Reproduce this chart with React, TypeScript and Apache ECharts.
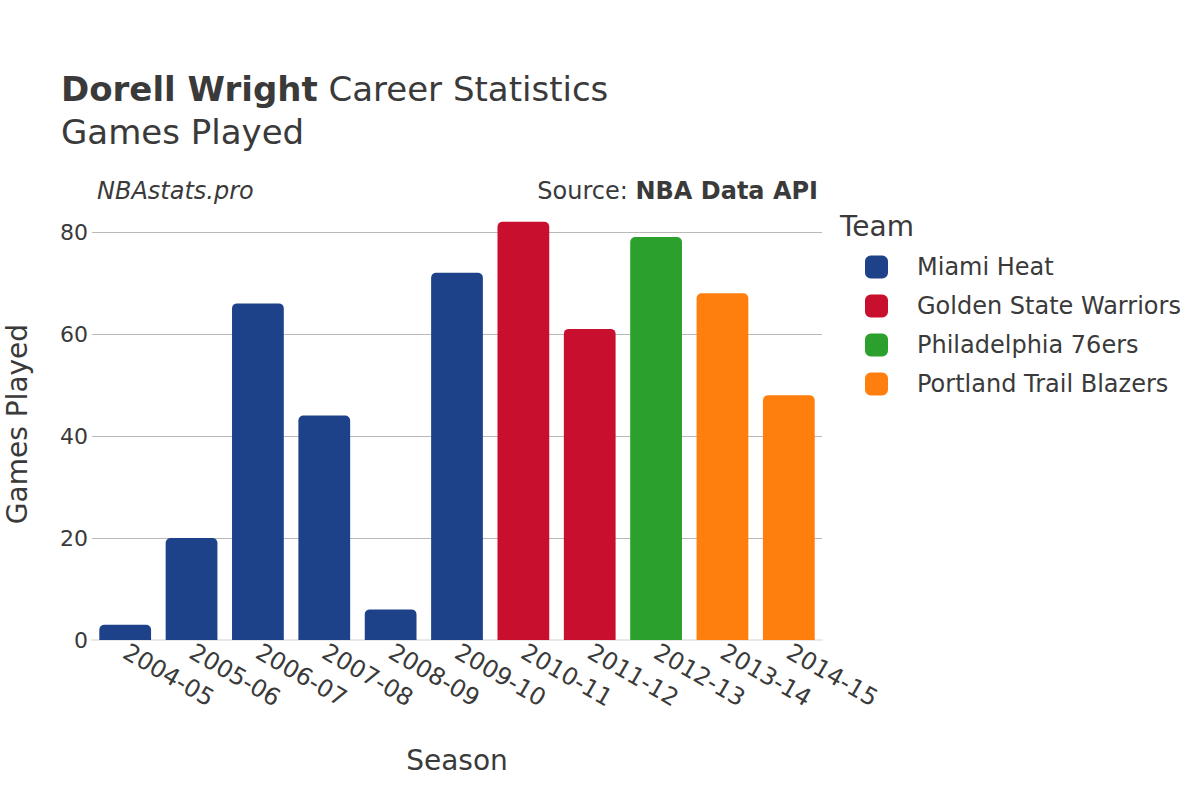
import React, { useEffect, useRef } from "react";
import * as echarts from "echarts";

const seasons = ["2004-05", "2005-06", "2006-07", "2007-08", "2008-09", "2009-10", "2010-11", "2011-12", "2012-13", "2013-14", "2014-15"];
const teams = ["Miami Heat", "Golden State Warriors", "Philadelphia 76ers", "Portland Trail Blazers"];
const teamColors = ["#1d428a", "#c8102e", "#2ca02c", "#ff7f0e"];
const gamesPlayed = [3, 20, 66, 44, 6, 72, 82, 61, 79, 68, 48];
const seasonTeam = [0, 0, 0, 0, 0, 0, 1, 1, 2, 3, 3];
const yTicks = [0, 20, 40, 60, 80];

const FONT = "DejaVu Sans";
const INK = "#3a3a3a";

export default function App() {
  const ref = useRef<HTMLDivElement>(null);
  useEffect(() => {
    if (!ref.current) return;
    const chart = echarts.init(ref.current, null, { renderer: "svg" });
    const series = teams.map((t, ti) => ({
      name: t,
      type: "bar",
      stack: "games",
      clip: false,
      barCategoryGap: "22%",
      itemStyle: { color: teamColors[ti], borderRadius: [5, 5, 0, 0] },
      data: gamesPlayed.map((v, i) => (seasonTeam[i] === ti ? v : "-")),
    }));
    chart.setOption({
      animation: false,
      textStyle: { fontFamily: FONT },
      grid: { left: 92, right: 378, top: 232, bottom: 160, containLabel: false, outerBoundsMode: "none" },
      legend: {
        orient: "vertical",
        left: 860,
        top: 250,
        itemWidth: 23,
        itemHeight: 23,
        itemGap: 15,
        icon: "roundRect",
        textStyle: { fontSize: 24, color: INK, fontFamily: FONT, padding: [0, 0, 0, 24] },
        data: teams,
      },
      xAxis: {
        type: "category",
        data: seasons,
        name: "Season",
        nameLocation: "middle",
        nameGap: 106,
        nameTextStyle: { fontSize: 28, color: INK, fontFamily: FONT },
        axisLine: { show: true, lineStyle: { color: "#e8e8e8", width: 2 } },
        axisTick: { show: false },
        axisLabel: { rotate: -30, fontSize: 24, color: INK, fontFamily: FONT, margin: 10, interval: 0 },
      },
      yAxis: {
        type: "value",
        min: 0,
        max: yTicks[yTicks.length - 1],
        interval: 20,
        axisLine: { show: false },
        axisTick: { show: false },
        axisLabel: { fontSize: 22, color: INK, fontFamily: FONT, margin: 4 },
        splitLine: { lineStyle: { color: "#b8b8b8", width: 1 } },
      },
      graphic: [
        {
          type: "text",
          left: 61,
          top: 72,
          style: {
            text: "{b|Dorell Wright}{n| Career Statistics}",
            rich: {
              b: { fontSize: 34, fontWeight: "bold", fill: INK, fontFamily: FONT },
              n: { fontSize: 34, fill: INK, fontFamily: FONT },
            },
          },
        },
        {
          type: "text",
          left: 61,
          top: 115,
          style: { text: "Games Played", fontSize: 34, fill: INK, fontFamily: FONT },
        },
        {
          type: "text",
          left: 97,
          top: 179,
          style: { text: "NBAstats.pro", fontSize: 24, fontStyle: "italic", fill: INK, fontFamily: FONT },
        },
        {
          type: "text",
          right: 382,
          top: 179,
          style: {
            text: "{n|Source: }{b|NBA Data API}",
            rich: {
              n: { fontSize: 24, fill: INK, fontFamily: FONT },
              b: { fontSize: 24, fontWeight: "bold", fill: INK, fontFamily: FONT },
            },
          },
        },
        {
          type: "text",
          left: 840,
          top: 212,
          style: { text: "Team", fontSize: 28, fill: INK, fontFamily: FONT },
        },
        {
          type: "text",
          x: 17,
          y: 424,
          rotation: Math.PI / 2,
          style: {
            text: "Games Played",
            fontSize: 28,
            fill: INK,
            fontFamily: FONT,
            textAlign: "center",
            textVerticalAlign: "middle",
          },
        },
      ],
      series,
    });
    return () => chart.dispose();
  }, []);
  return <div ref={ref} style={{ position: "absolute", left: 0, top: 0, width: 1200, height: 800 }} />;
}
